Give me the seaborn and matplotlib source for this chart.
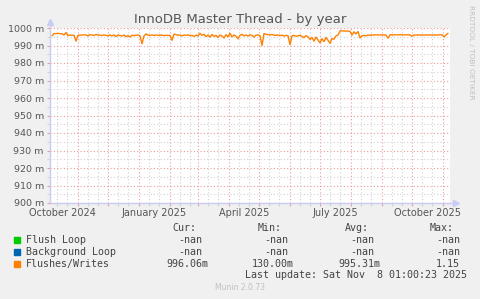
import numpy as np
import pandas as pd
import matplotlib
matplotlib.use("Agg")
import matplotlib.pyplot as plt
from matplotlib.patches import Rectangle
from matplotlib.ticker import FixedLocator, NullFormatter
import seaborn as sns

# ---- data -------------------------------------------------------------
start = pd.Timestamp("2024-10-04")
span_days = 400

# Flushes/Writes sampled every second day from the start of the window (milli-units)
flush_days = list(range(0, 400, 2))
flush_values = [
    np.nan, 995.5, 996.8, 996.8, 996.9, 996.8, 996.7, 996.0, 997.4, 995.6,
    996.0, 995.8, 995.9, 992.5, 995.8, 996.0, 995.9, 996.1, 996.0, 995.5,
    996.2, 996.0, 995.7, 996.3, 996.0, 995.9, 995.7, 996.0, 995.8, 995.6,
    996.0, 995.5, 996.0, 995.1, 996.0, 995.8, 995.4, 996.0, 995.0, 995.7,
    994.8, 995.9, 995.6, 995.9, 996.0, 995.5, 991.0, 995.5, 996.6, 996.0,
    995.8, 996.0, 995.7, 996.0, 995.8, 996.0, 995.9, 995.6, 995.9, 995.7,
    995.8, 993.0, 996.5, 996.2, 995.9, 996.0, 995.5, 996.0, 995.8, 996.1,
    995.6, 995.8, 995.2, 995.9, 995.5, 997.0, 995.8, 996.4, 995.1, 996.0,
    994.8, 996.3, 995.2, 995.8, 994.6, 996.0, 995.4, 994.3, 996.2, 995.0,
    997.0, 994.9, 996.0, 995.3, 993.8, 995.8, 996.4, 995.5, 996.0, 995.4,
    996.1, 995.8, 994.8, 995.9, 996.0, 995.6, 990.0, 996.8, 996.4, 996.2,
    996.0, 996.3, 995.9, 995.8, 996.0, 995.7, 995.9, 995.4, 995.8, 995.6,
    990.5, 995.5, 995.8, 995.3, 995.5, 995.9, 995.2, 994.5, 995.6, 995.0,
    993.4, 994.6, 992.5, 994.8, 993.2, 991.4, 993.9, 992.2, 994.6, 993.0,
    991.2, 994.0, 993.6, 995.5, 996.0, 998.3, 998.4, 998.3, 998.2, 998.3,
    998.0, 996.0, 997.8, 996.6, 998.0, 994.3, 995.5, 995.8, 995.5, 996.0,
    995.8, 996.0, 996.0, 996.1, 996.0, 996.0, 996.1, 996.0, 995.9, 994.2,
    996.1, 996.1, 996.1, 996.1, 996.1, 996.1, 996.1, 996.1, 996.1, 996.1,
    996.1, 995.3, 996.0, 996.0, 996.0, 996.0, 996.0, 996.0, 996.0, 996.0,
    996.0, 996.0, 996.0, 996.0, 996.0, 996.1, 996.1, 995.0, 996.0, 997.0,
]

y_ticks = [900, 910, 920, 930, 940, 950, 960, 970, 980, 990, 1000]
y_tick_labels = [f"{v} m" for v in y_ticks]

month_starts = ["2024-11-01", "2024-12-01", "2025-01-01", "2025-02-01", "2025-03-01",
                "2025-04-01", "2025-05-01", "2025-06-01", "2025-07-01", "2025-08-01",
                "2025-09-01", "2025-10-01", "2025-11-01"]
minor_dates = ["2024-10-11", "2024-10-21", "2024-11-11", "2024-11-21", "2024-12-11",
               "2024-12-21", "2025-01-11", "2025-01-21", "2025-02-11", "2025-02-21",
               "2025-03-11", "2025-03-21", "2025-04-11", "2025-04-21", "2025-05-11",
               "2025-05-21", "2025-06-11", "2025-06-21", "2025-07-11", "2025-07-21",
               "2025-08-11", "2025-08-21", "2025-09-11", "2025-09-21", "2025-10-11",
               "2025-10-21"]
label_dates = ["2024-10-16", "2025-01-16", "2025-04-16", "2025-07-16", "2025-10-16"]
label_texts = ["October 2024", "January 2025", "April 2025", "July 2025", "October 2025"]

legend_names = ["Flush Loop", "Background Loop", "Flushes/Writes"]
legend_colors = ["#00CC00", "#0066B3", "#FF8000"]
legend_cur = ["-nan", "-nan", "996.06m"]
legend_min = ["-nan", "-nan", "130.00m"]
legend_avg = ["-nan", "-nan", "995.31m"]
legend_max = ["-nan", "-nan", "1.15"]


def day_of(d):
    return (pd.Timestamp(d) - start).days


# ---- figure -----------------------------------------------------------
sns.set_theme(style="white")
plt.rcParams["font.family"] = ["DejaVu Sans"]

W, H = 481, 299
BG = "#F0F0F0"
fig = plt.figure(figsize=(W / 100, H / 100), dpi=100, facecolor=BG)
ax = fig.add_axes([50 / W, 96 / H, 400 / W, 175 / H])
ax.set_facecolor("white")

df = pd.DataFrame({"day": flush_days, "value": flush_values})
sns.lineplot(data=df, x="day", y="value", ax=ax, color=legend_colors[2],
             linewidth=1.0, zorder=5)
ax.set_xlabel("")
ax.set_ylabel("")
ax.set_xlim(0, span_days)
ax.set_ylim(900, 1000)

# grid: red dashes for majors, grey dots for minors
major_x = [day_of(d) for d in month_starts]
minor_x = [day_of(d) for d in minor_dates]
ax.xaxis.set_major_locator(FixedLocator(major_x))
ax.xaxis.set_minor_locator(FixedLocator(minor_x))
ax.xaxis.set_major_formatter(NullFormatter())
ax.yaxis.set_major_locator(FixedLocator(y_ticks))
ax.yaxis.set_minor_locator(FixedLocator([v + 5 for v in y_ticks[:-1]]))
ax.set_yticklabels(y_tick_labels)

red = "#EE9A9A"
grey = "#D2D2D2"
ax.grid(which="major", color=red, linestyle=(0, (1, 2)), linewidth=0.8)
ax.grid(which="minor", color=grey, linestyle=(0, (1, 2)), linewidth=0.8)
ax.tick_params(which="major", length=2, width=0.8, color=red, pad=2.5,
               labelsize=6.8, labelcolor="#555555")
ax.tick_params(which="minor", length=2, width=0.8, color=grey)
ax.tick_params(axis="x", which="both", bottom=True)
ax.tick_params(axis="y", which="both", left=True)

axis_col = "#C8CCF4"
for side in ("top", "right"):
    ax.spines[side].set_visible(False)
for side in ("left", "bottom"):
    ax.spines[side].set_color(axis_col)
    ax.spines[side].set_linewidth(1.0)
ax.plot([0, 0], [1, 1.03], transform=ax.transAxes, color=axis_col, lw=1.0, clip_on=False)
ax.plot([1, 1.015], [0, 0], transform=ax.transAxes, color=axis_col, lw=1.0, clip_on=False)
ax.plot([0], [1.035], marker="^", markersize=4, color=axis_col, transform=ax.transAxes,
        clip_on=False)
ax.plot([1.015], [0], marker=">", markersize=4, color=axis_col, transform=ax.transAxes,
        clip_on=False)

# month labels centred mid-month
for d, t in zip(label_dates, label_texts):
    ax.text(day_of(d), -0.055, t, transform=ax.get_xaxis_transform(), ha="center",
            va="center", fontsize=7, color="#555555")


def fx(x):
    return x / W


def fy(y):
    return 1 - y / H


fig.text(fx(240), fy(19), "InnoDB Master Thread - by year", ha="center", va="center",
         fontsize=9.5, color="#555555")
fig.text(fx(471), fy(5), "RRDTOOL / TOBI OETIKER", rotation=270, ha="center", va="top",
         fontsize=5.3, color="#C0C0C0")

mono = dict(family="DejaVu Sans Mono", fontsize=7.2, color="#444444", va="center")
fig.text(fx(172), fy(228), "Cur:", **mono)
fig.text(fx(258), fy(228), "Min:", **mono)
fig.text(fx(345), fy(228), "Avg:", **mono)
fig.text(fx(430), fy(228), "Max:", **mono)

row_y = [240, 252, 264]
for i, name in enumerate(legend_names):
    y = row_y[i]
    fig.patches.append(Rectangle((fx(14), fy(y + 3)), 6 / W, 6 / H,
                                 transform=fig.transFigure, color=legend_colors[i]))
    fig.text(fx(26), fy(y), name, **mono)
    for xr, val in zip((202, 288, 374, 460),
                       (legend_cur[i], legend_min[i], legend_avg[i], legend_max[i])):
        xe = xr + 6 if val.endswith("m") else xr
        fig.text(fx(xe), fy(y), val, ha="right", **{k: v for k, v in mono.items()})

fig.text(fx(467), fy(275), "Last update: Sat Nov  8 01:00:23 2025", ha="right", **mono)
fig.text(fx(240), fy(288), "Munin 2.0.73", ha="center", va="center", fontsize=5.5,
         color="#C0C0C0")

fig.savefig("out.png", dpi=100, facecolor=BG)
